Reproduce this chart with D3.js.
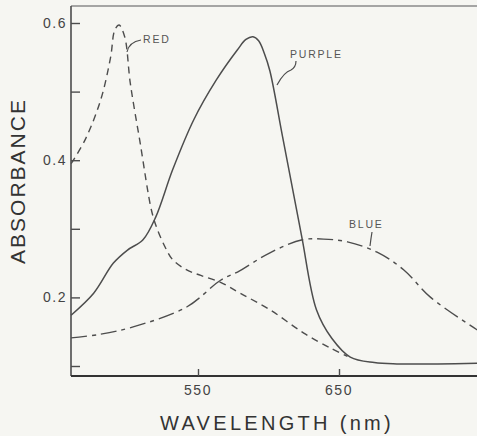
<!DOCTYPE html>
<html>
<head>
<meta charset="utf-8">
<script src="https://cdn.jsdelivr.net/npm/d3@7"></script>
<style>
  html, body { margin: 0; padding: 0; background: #f6f6f2; }
  svg { display: block; font-family: "Liberation Sans", Arial, sans-serif; }
  .tick-label { fill: #444; font-size: 14px; letter-spacing: 1.5px; }
  .curve-label { fill: #555; font-size: 10.5px; letter-spacing: 1.8px; }
</style>
</head>
<body>
<svg id="chart" width="477" height="436"></svg>
<script>
// red (dashed)
const redWave = [460, 470, 481, 488, 491, 494, 498, 502, 509, 517, 521, 527, 532, 542, 552, 566, 580, 601, 625, 645, 656];
const redAbs = [0.395, 0.43, 0.488, 0.55, 0.59, 0.597, 0.58, 0.512, 0.425, 0.327, 0.3, 0.272, 0.255, 0.24, 0.232, 0.222, 0.206, 0.182, 0.148, 0.125, 0.114];

// purple (solid)
const purpleWave = [460, 476, 490, 500, 511, 520, 532, 547, 563, 578, 584, 589, 593, 597, 601, 610, 620, 624, 634, 645, 658, 675, 691, 720, 750];
const purpleAbs = [0.174, 0.206, 0.25, 0.269, 0.284, 0.317, 0.386, 0.459, 0.517, 0.561, 0.576, 0.58, 0.574, 0.556, 0.53, 0.434, 0.327, 0.284, 0.182, 0.14, 0.113, 0.105, 0.103, 0.103, 0.104];

// blue (dash-dot)
const blueWave = [460, 480, 504, 542, 566, 578, 601, 624, 639, 656, 677, 696, 715, 750];
const blueAbs = [0.141, 0.146, 0.157, 0.186, 0.225, 0.237, 0.265, 0.284, 0.285, 0.281, 0.266, 0.24, 0.2, 0.15];

const xTicks = [550, 650];
const yTicks = [0.1, 0.2, 0.3, 0.4, 0.5, 0.6];
const yTickLabels = { 0.2: "0.2", 0.4: "0.4", 0.6: "0.6" };

const svg = d3.select("#chart");
const ink = "#4d4d4d";

const x = d3.scaleLinear().domain([550, 650]).range([198, 339]);
const y = d3.scaleLinear().domain([0.1, 0.6]).range([366, 23]);

const plotLeft = 71, plotRight = 477, plotTop = 6, plotBottom = 376;

// frame
svg.append("line")
  .attr("x1", plotLeft).attr("x2", plotRight).attr("y1", plotTop).attr("y2", plotTop)
  .attr("stroke", "#8a8a8a").attr("stroke-width", 1.3);
svg.append("line")
  .attr("x1", plotLeft).attr("x2", plotLeft).attr("y1", plotTop).attr("y2", plotBottom)
  .attr("stroke", ink).attr("stroke-width", 1.6);
svg.append("line")
  .attr("x1", plotLeft).attr("x2", plotRight).attr("y1", plotBottom).attr("y2", plotBottom)
  .attr("stroke", "#333").attr("stroke-width", 2.2);

// y ticks (inward)
const yAxis = d3.axisRight(y).tickValues(yTicks).tickSize(9)
  .tickFormat("");
svg.append("g")
  .attr("transform", "translate(" + plotLeft + ",0)")
  .call(yAxis)
  .call(g => g.select(".domain").remove())
  .call(g => g.selectAll("line").attr("stroke", ink).attr("stroke-width", 1.4));

svg.selectAll(".ylab")
  .data(yTicks.filter(t => yTickLabels[t]))
  .enter()
  .append("text")
  .attr("class", "tick-label")
  .attr("x", plotLeft - 4)
  .attr("y", d => y(d))
  .attr("dy", "0.36em")
  .attr("text-anchor", "end")
  .text(d => yTickLabels[d]);

// x ticks (inward)
const xAxis = d3.axisTop(x).tickValues(xTicks).tickSize(7).tickFormat("");
svg.append("g")
  .attr("transform", "translate(0," + plotBottom + ")")
  .call(xAxis)
  .call(g => g.select(".domain").remove())
  .call(g => g.selectAll("line").attr("stroke", ink).attr("stroke-width", 1.4));

svg.selectAll(".xlab")
  .data(xTicks)
  .enter()
  .append("text")
  .attr("class", "tick-label")
  .attr("x", d => x(d))
  .attr("y", 395)
  .attr("text-anchor", "middle")
  .text(d => d);

// axis titles
svg.append("text")
  .attr("x", 277).attr("y", 430)
  .attr("text-anchor", "middle")
  .attr("fill", "#333")
  .style("font-size", "20px")
  .style("letter-spacing", "3.3px")
  .text("WAVELENGTH (nm)");

svg.append("text")
  .attr("transform", "translate(25,181) rotate(-90)")
  .attr("text-anchor", "middle")
  .attr("fill", "#333")
  .style("font-size", "21px")
  .style("letter-spacing", "2px")
  .text("ABSORBANCE");

// curves
const line = d3.line()
  .x(d => x(d[0]))
  .y(d => y(d[1]))
  .curve(d3.curveCatmullRom.alpha(0.5));

const plot = svg.append("g");

plot.append("path")
  .attr("d", line(d3.zip(blueWave, blueAbs)))
  .attr("fill", "none")
  .attr("stroke", ink)
  .attr("stroke-width", 1.4)
  .attr("stroke-dasharray", "16,5,4,5");

plot.append("path")
  .attr("d", line(d3.zip(redWave, redAbs)))
  .attr("fill", "none")
  .attr("stroke", ink)
  .attr("stroke-width", 1.4)
  .attr("stroke-dasharray", "7,5");

plot.append("path")
  .attr("d", line(d3.zip(purpleWave, purpleAbs)))
  .attr("fill", "none")
  .attr("stroke", ink)
  .attr("stroke-width", 1.5);

// curve labels with leaders
const labels = [
  { text: "RED", lx: 143, ly: 43, path: "M127,52 Q129,42 141,40" },
  { text: "PURPLE", lx: 290, ly: 58, path: "M277,85 Q284,72 291,70 Q296,67 296,61" },
  { text: "BLUE", lx: 349, ly: 228, path: "M372,232 Q371,238 370,246" }
];

labels.forEach(l => {
  svg.append("text")
    .attr("class", "curve-label")
    .attr("x", l.lx).attr("y", l.ly)
    .text(l.text);
  svg.append("path")
    .attr("d", l.path)
    .attr("fill", "none")
    .attr("stroke", ink)
    .attr("stroke-width", 1.2);
});
</script>
</body>
</html>
